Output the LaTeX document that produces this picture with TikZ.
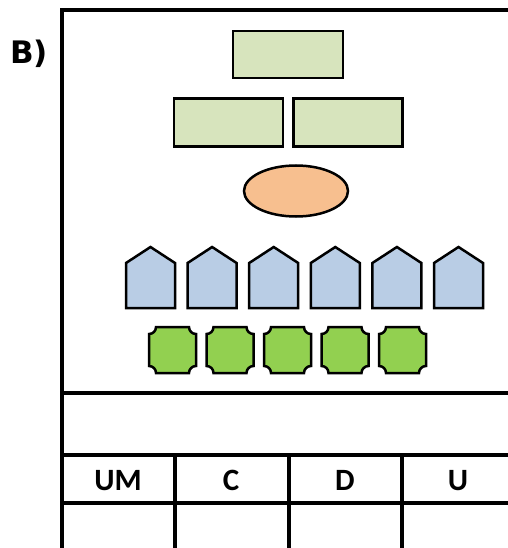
\documentclass[tikz,border=0pt]{standalone}
\usepackage{fontspec}
\newfontfamily\tabfont{Carlito}
\newfontfamily\labfont{DejaVu Sans}
\usepackage{tikz}
\usetikzlibrary{shapes.geometric}

\definecolor{paleGreen}{HTML}{D7E4BD}
\definecolor{paleBlue}{HTML}{B9CDE5}
\definecolor{peach}{HTML}{F7BF8F}
\definecolor{limeGreen}{HTML}{92D050}

\begin{document}
\begin{tikzpicture}[x=1pt,y=1pt]
\tikzstyle{every node}+=[inner sep=0pt]
\tikzstyle{frame}=[black,line width=4pt]
\tikzstyle{shapeline}=[black,line width=2.5pt]
\tikzstyle{block}=[shapeline,draw,fill=paleGreen,rectangle,minimum width=109pt,minimum height=48pt]
\tikzstyle{headtext}=[font=\tabfont\bfseries\fontsize{31}{31}\selectfont,anchor=base]
\useasboundingbox (0,0) rectangle (507,-548);
% label
\node (lab) [anchor=base west,font=\labfont\bfseries\fontsize{31}{31}\selectfont] at (10,-64) {B)};
% outer frame and table
\draw [frame] (62,-548) -- (62,-10.5) -- (510,-10.5);
\draw [frame] (62,-393) -- (510,-393);
\draw [frame] (62,-455) -- (510,-455);
\draw [frame] (62,-503) -- (510,-503);
\foreach \x in {175,289,402}
  \draw [frame] (\x,-455) -- (\x,-550);
\node (um) [headtext] at (118,-490) {UM};
\node (c) [headtext] at (231,-490) {C};
\node (d) [headtext] at (345,-490) {D};
\node (u) [headtext] at (458,-490) {U};
% blocks
\node (top) [block,minimum width=110pt,minimum height=47pt] at (288,-54.5) {};
\node (midl) [block] at (228.5,-122.5) {};
\node (midr) [block] at (348,-122.5) {};
\node (oval) [shapeline,draw,fill=peach,ellipse,minimum width=104pt,minimum height=51pt] at (296,-191) {};
% houses
\foreach \i in {0,...,5} {
  \pgfmathsetmacro{\xl}{126+61.6*\i}
  \draw [shapeline,fill=paleBlue,line join=miter]
    (\xl,-308) -- (\xl,-263) -- (\xl+24.5,-247) -- (\xl+49,-263) -- (\xl+49,-308) -- cycle;
}
% plaques
\foreach \i in {0,...,4} {
  \pgfmathsetmacro{\xl}{149+57.5*\i}
  \pgfmathsetmacro{\xr}{\xl+47}
  \draw [shapeline,fill=limeGreen]
    (\xl+7,-327) -- (\xr-7,-327) arc (180:270:7) -- (\xr,-366) arc (90:180:7)
    -- (\xl+7,-373) arc (0:90:7) -- (\xl,-334) arc (-90:0:7) -- cycle;
}
\end{tikzpicture}
\end{document}
